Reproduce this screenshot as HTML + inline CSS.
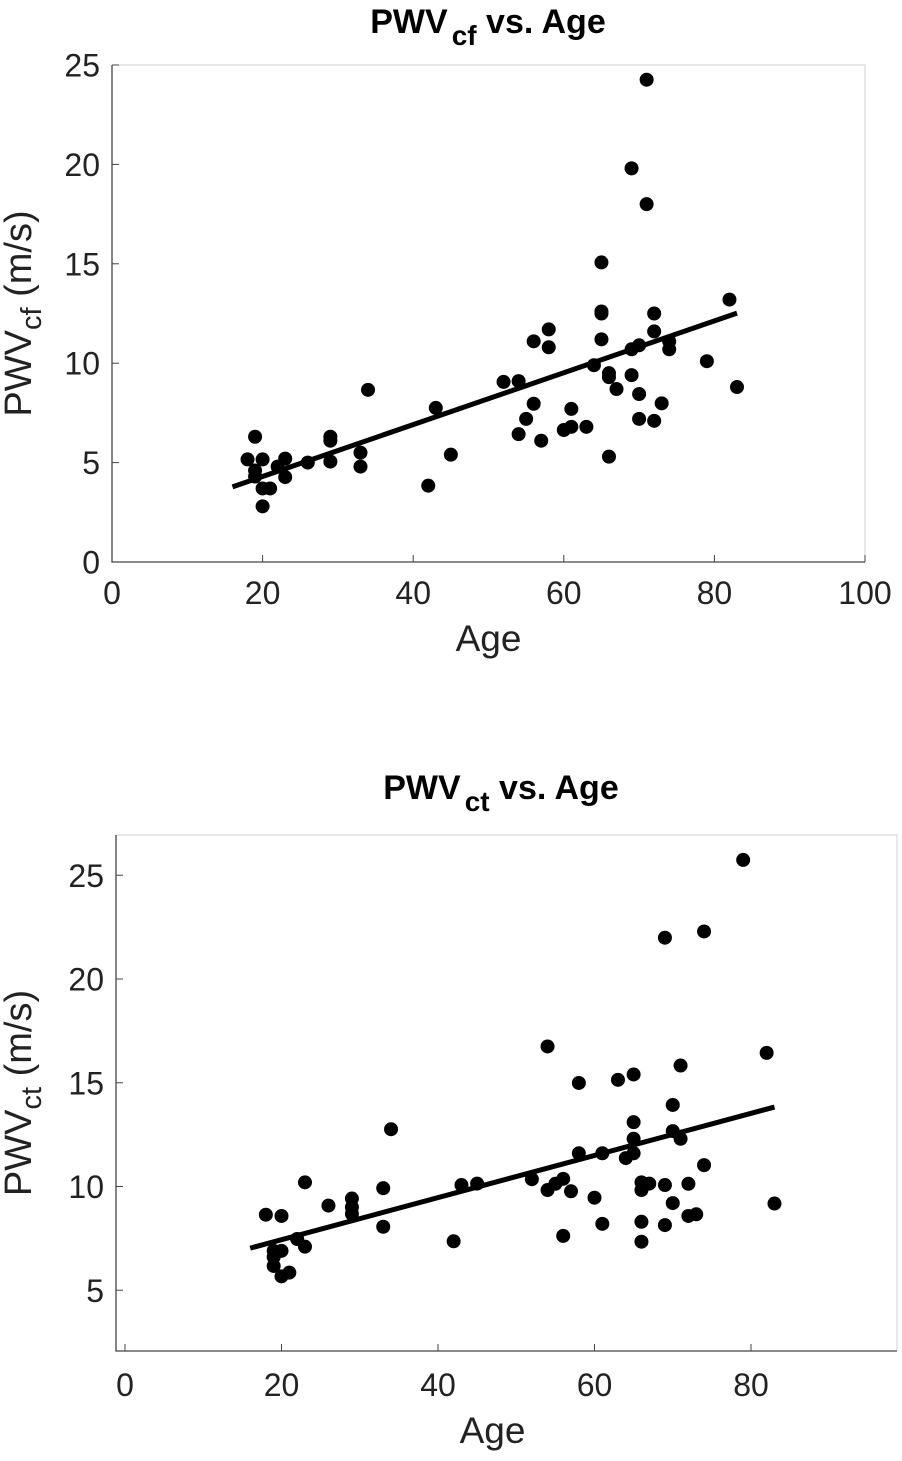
<!DOCTYPE html>
<html><head><meta charset="utf-8"><style>
body{margin:0;background:#fff;width:902px;height:1461px;overflow:hidden}
svg{display:block;font-family:"Liberation Sans",Arial,sans-serif}
</style></head><body>
<svg id="s" width="902" height="1461"></svg>
<script>
const ageA=[18,19,19,19,20,20,20,21,22,23,23,26,29,29,29,33,33,34,42,43,45,52,54,54,55,56,56,57,58,58,60,61,61,63,64,65,65,65,65,66,66,66,67,69,69,69,70,70,70,71,71,72,72,72,73,74,74,79,82,83];
const pwvA=[5.16,6.3,4.6,4.3,5.16,3.7,2.8,3.7,4.8,5.2,4.27,5.0,6.3,6.1,5.05,5.5,4.8,8.66,3.84,7.75,5.4,9.06,9.1,6.43,7.2,7.96,11.1,6.1,11.7,10.8,6.64,7.7,6.8,6.8,9.9,15.07,12.6,12.5,11.2,9.5,9.3,5.3,8.7,19.8,10.7,9.4,10.9,8.45,7.2,24.26,18.0,12.5,11.6,7.1,7.98,11.1,10.7,10.1,13.2,8.8];
const fitA=[[16,3.78],[83,12.52]];
const ageB=[18,19,19,19,20,20,20,21,22,23,23,26,29,29,29,33,33,34,42,43,45,52,54,54,55,56,56,57,58,58,60,61,61,63,64,65,65,65,65,66,66,66,66,67,69,69,69,70,70,70,71,71,72,72,73,74,74,79,82,83];
const pwvB=[8.64,6.9,6.6,6.17,8.58,6.9,5.67,5.85,7.47,10.2,7.1,9.08,9.42,9.0,8.68,9.92,8.06,12.76,7.36,10.07,10.14,10.35,16.75,9.83,10.13,10.37,7.62,9.77,14.99,11.6,9.46,11.6,8.2,15.14,11.37,15.4,13.1,12.3,11.6,10.2,9.83,8.3,7.34,10.14,21.99,10.07,8.14,13.93,12.67,9.2,15.83,12.3,10.13,8.58,8.66,22.29,11.03,25.74,16.44,9.18];
const fitB=[[16,7.03],[83,13.83]];
const xTicksA=[0,20,40,60,80,100], yTicksA=[0,5,10,15,20,25];
const xTicksB=[0,20,40,60,80], yTicksB=[5,10,15,20,25];
const NS="http://www.w3.org/2000/svg", S=document.getElementById('s');
function mk(t,a,p){const e=document.createElementNS(NS,t);for(const k in a)e.setAttribute(k,a[k]);(p||S).appendChild(e);return e;}
function chart(o){
  const g=mk('g',{});
  
  
  const X=v=>o.x0+v*o.kx, Y=v=>o.y0-v*o.ky;
  const L=o.L,R=o.R,T=o.T,B=o.B;
  const fr=mk('path',{d:`M${L},${T}H${R}V${B}`,fill:'none',stroke:'#d0d0d0','stroke-width':1},g);
  
  const ax=mk('path',{d:`M${L},${T}V${B}H${R}`,fill:'none',stroke:'#444','stroke-width':1.3},g);
  
  o.xt.forEach(v=>{const x=X(v);mk('line',{x1:x,x2:x,y1:B,y2:B-7,stroke:'#444'},g);
    const t=mk('text',{x:x,y:B+o.xtb,'text-anchor':'middle','font-size':32,fill:'#222'},g);t.textContent=v;
    });
  o.yt.forEach(v=>{const y=Y(v);mk('line',{x1:L,x2:L+7,y1:y,y2:y,stroke:'#444'},g);
    const t=mk('text',{x:L-12,y:y+11.5,'text-anchor':'end','font-size':32,fill:'#222'},g);t.textContent=v;
    });
  o.ax.forEach((a,i)=>{const c=mk('circle',{cx:X(a),cy:Y(o.vals[i]),r:7,fill:'#000'},g);
    });
  const ln=mk('line',{x1:X(o.fit[0][0]),y1:Y(o.fit[0][1]),x2:X(o.fit[1][0]),y2:Y(o.fit[1][1]),stroke:'#000','stroke-width':5},g);
  
  const ti=mk('text',{x:o.tx,y:o.ty,'text-anchor':'middle','font-size':34,'font-weight':'bold'},g);
  ti.innerHTML='PWV<tspan font-size="28" dy="12" dx="4">'+o.sub+'</tspan><tspan dy="-12"> vs. Age</tspan>';
  
  const xl=mk('text',{x:(L+R)/2+(o.xlo||0),y:B+o.xlb,'text-anchor':'middle','font-size':37,fill:'#222'},g);xl.textContent='Age';
  
  const yl=mk('text',{x:0,y:0,'text-anchor':'middle','font-size':38,fill:'#222',transform:`translate(${o.ylx},${(T+B)/2}) rotate(-90)`},g);
  yl.innerHTML='PWV<tspan font-size="29" dy="10">'+o.sub+'</tspan><tspan dy="-10"> (m/s)</tspan>';
  
}
chart({name:'chart-pwv-cf',x0:112,kx:7.53,y0:562,ky:19.88,L:112,R:865,T:65,B:562,xt:xTicksA,yt:yTicksA,ax:ageA,vals:pwvA,fit:fitA,tx:488,ty:33,sub:'cf',ylx:31,xtb:42,xlb:89});
chart({name:'chart-pwv-ct',x0:125,kx:7.825,y0:1394,ky:20.75,L:116,R:897,T:835,B:1351,xt:xTicksB,yt:yTicksB,ax:ageB,vals:pwvB,fit:fitB,tx:501,ty:799,sub:'ct',ylx:31,xlo:-14,xtb:45,xlb:92});
</script>
</body></html>
